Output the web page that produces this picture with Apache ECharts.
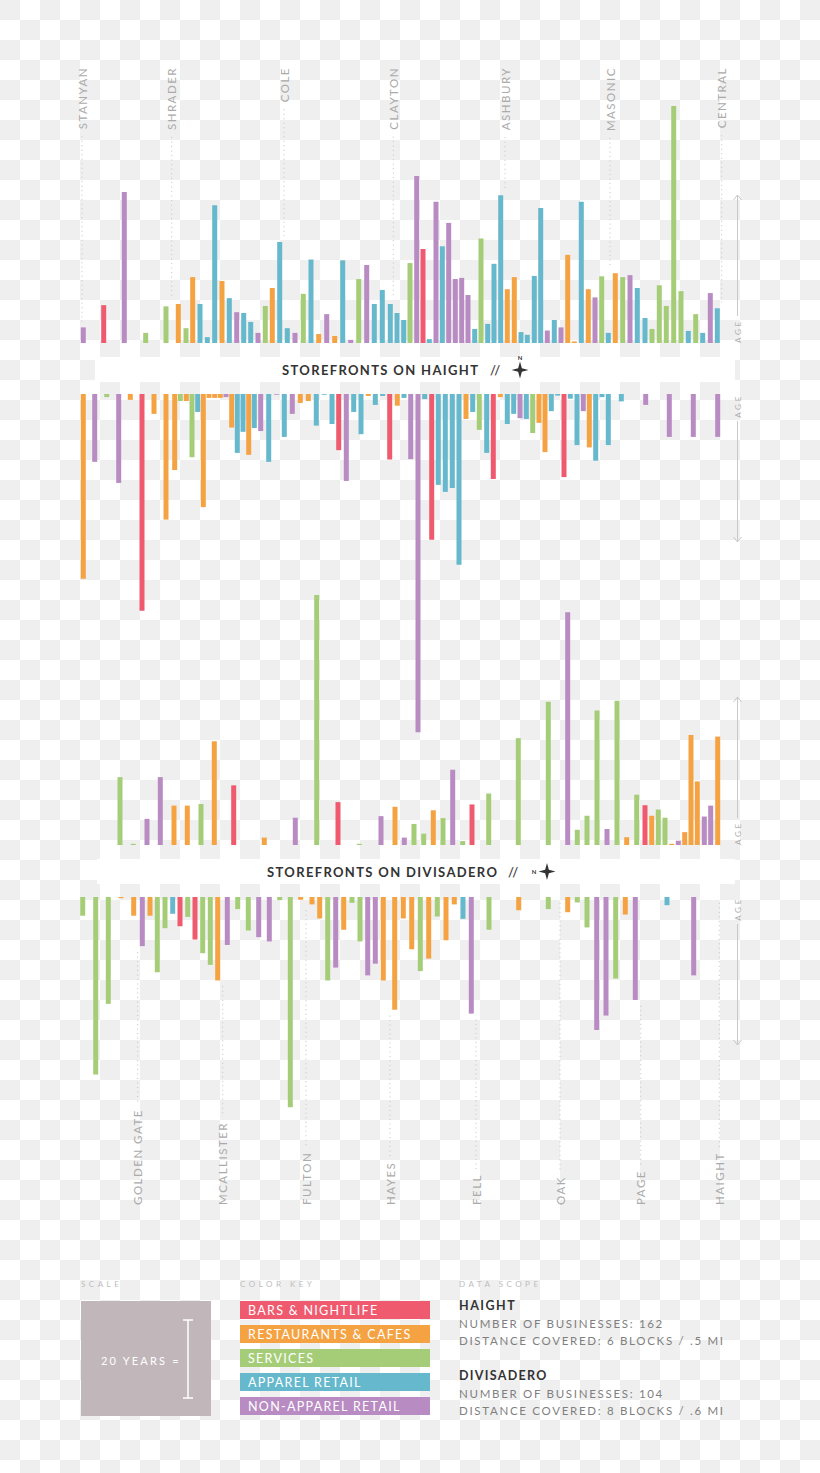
<!DOCTYPE html>
<html><head><meta charset="utf-8">
<script src="https://cdn.jsdelivr.net/npm/echarts@6/dist/echarts.min.js"></script>
<style>
html,body{margin:0;padding:0;width:820px;height:1473px;overflow:hidden;
background-color:#fff;
background-image:conic-gradient(#fff 0 25%, #efefef 0 50%, #fff 0 75%, #efefef 0);
background-size:40px 40px;}
#chart{width:820px;height:1473px;}
</style></head><body><div id="chart"></div>
<script>
// ---------------- DATA ----------------
// category codes: B bars & nightlife, R restaurants & cafes, S services, A apparel retail, N non-apparel retail
const categoryCodes = ['B','R','S','A','N'];
const categoryNames = ['BARS & NIGHTLIFE','RESTAURANTS & CAFES','SERVICES','APPAREL RETAIL','NON-APPAREL RETAIL'];

// Haight, upper side: position along street (plot units), age (years), category
const haightUpperPos = [3.3,23.7,44.3,65.7,86,98.3,106,112.7,120,127.3,
 134.7,142,149.3,156.7,163.7,170.7,178,185.3,192.3,199.7,
 207.3,215,223.3,231,238.7,246.7,254.7,262.7,270.7,278.7,
 286.7,294.3,302.3,310.3,317,323.7,330,336.7,343,349.3,
 356,362.3,368.7,375.3,381.7,388,394.7,401,407.7,414,
 420.7,427.3,434.3,441,447.3,454.3,460.7,467.3,474.3,481,
 487.7,494.3,501.3,508.3,515,521.7,528.3,535.3,542.7,550,
 557.3,565,572,579.3,586.3,593.7,601,608.3,615.7,622.7,
 630.3,637.3];
const haightUpperAge = [4.0,9.7,38.7,2.6,9.4,10.0,3.8,16.9,10.0,1.5,
 35.3,15.9,11.5,7.9,7.7,5.4,2.6,9.5,14.1,25.9,
 3.8,2.6,12.6,21.4,2.3,7.4,1.8,21.2,0.8,16.4,
 20.0,10.0,13.6,10.0,7.7,5.9,20.5,42.8,24.1,1.0,
 36.2,24.8,30.8,16.4,16.7,12.3,3.6,26.8,4.9,20.3,
 37.9,13.8,16.9,2.8,2.1,17.2,34.6,3.2,5.9,4.0,
 22.6,0.4,36.2,13.8,11.7,17.1,2.6,17.9,16.9,17.4,
 14.1,6.4,3.6,14.8,9.5,60.8,13.3,3.1,7.4,2.6,
 12.8,8.9];
const haightUpperCat = ['N','B','N','S','S','R','S','R','A','A',
 'A','R','A','N','A','A','N','S','R','A',
 'A','N','S','A','R','N','R','A','N','S',
 'N','A','A','A','A','A','S','N','B','A',
 'N','A','N','N','N','N','A','S','A','A',
 'A','R','R','A','A','A','A','N','A','N',
 'R','R','A','R','N','S','A','R','S','N',
 'A','A','S','S','S','S','S','A','S','A',
 'N','A'];

// Haight, lower side
const haightLowerPos = [3.3,14.7,26.7,38.7,50.3,62,74,86,94.7,100.3,
 106.3,112,117.7,123.3,129,134.7,140.3,146,151.7,157.3,
 163,168.7,174.3,180.7,188.7,196.7,204.3,212.3,220.3,228.3,
 236.3,244.3,252,258.7,266.3,273.7,281,288.3,295.3,302.7,
 309.7,317.3,324,330.7,338,344.7,351.7,358.3,365.3,372.3,
 379,386,392.7,399.3,406.7,413.3,420.3,427.3,433.7,440,
 446.3,452.7,459,465,471.3,477.7,484,490.3,497,503.3,
 509.3,515.7,522,528.3,541.3,565.7,589.3,613.3,637.7];
const haightLowerAge = [47.4,17.4,0.8,22.8,1.5,55.6,5.1,32.2,19.5,1.8,
 1.8,16.2,4.6,29.0,1.0,1.0,1.0,0.8,8.6,15.1,
 9.7,15.6,8.7,9.5,17.4,0.2,11.0,5.1,2.3,1.8,
 8.1,0.2,7.7,14.4,22.3,4.6,10.3,0.5,2.8,0.5,
 16.8,3.0,1.0,16.7,86.7,1.3,37.4,23.3,25.1,24.1,
 43.8,6.4,4.6,9.2,15.1,21.8,0.8,7.7,5.1,6.2,
 6.4,10.0,7.4,14.9,4.4,0.4,21.3,1.2,13.1,4.4,
 13.7,17.1,0.8,13.1,1.9,2.8,11.0,11.0,11.0];
const haightLowerCat = ['R','N','S','N','R','B','R','R','R','S',
 'R','S','A','R','R','R','R','N','R','A',
 'A','R','A','N','A','N','A','N','R','R',
 'A','A','A','B','N','A','A','R','A','A',
 'B','R','A','N','N','A','B','A','A','A',
 'A','R','A','S','A','B','R','A','A','N',
 'A','S','R','R','A','A','B','A','A','N',
 'R','A','A','A','A','N','N','N','N'];

// Divisadero, upper side
const divUpperPos = [40,53.3,67,80.3,94,107.3,121,134.3,153.7,184.3,
 215.3,236.7,258,279.3,301,315,324.3,334,343.7,353.3,
 363,372.7,382.7,392,408.7,438.3,468.3,487.7,497.3,507,
 517,527,537,546.7,556.7,565,571.7,578.3,585,591.7,
 598.3,604.7,611,617.3,624.3,630.7,637.7];
const divUpperAge = [17.4,0.3,6.7,17.4,10.1,10.1,10.5,26.6,15.3,1.9,
 7.0,64.1,11.0,0.3,7.4,9.8,1.9,5.4,2.9,8.9,
 6.9,19.3,1.0,10.4,13.2,27.4,36.7,59.7,3.9,7.5,
 34.5,4.1,37.0,2.0,12.9,10.2,7.5,9.1,7.0,0.3,
 1.1,3.3,28.2,16.3,7.3,10.1,27.8];
const divUpperCat = ['S','S','N','N','R','R','S','R','B','R',
 'N','S','B','S','N','R','N','S','S','R',
 'S','N','S','B','S','S','S','N','S','S',
 'S','N','S','R','S','B','R','S','S','R',
 'N','R','R','R','N','N','R'];

// Divisadero, lower side
const divLowerPos = [2.7,15.7,28.3,41,53.7,62.3,70,77.3,85,92.7,
 100,107.7,115,122.7,130.3,137.7,147.3,157.7,168.3,178.7,
 189.3,199.7,210.3,220.7,232,239.7,247.7,255.7,263.7,272,
 280,287.7,295.3,303.3,314.7,323.3,331.7,340.3,348.7,357.3,
 366,374.3,383,391.3,409,438.7,468.3,487.7,497.3,507,
 516.7,526,535.7,545.3,555.3,587,613.7];
const divLowerAge = [4.8,45.5,27.4,0.3,4.8,12.6,4.8,19.3,8.0,4.3,
 7.5,5.1,10.9,14.4,17.4,21.4,12.3,3.1,8.6,10.3,
 11.4,0.8,53.9,0.7,1.9,5.5,21.4,18.1,8.4,1.5,
 11.4,20.1,17.1,21.4,28.9,5.5,13.4,19.0,15.8,5.0,
 11.1,1.9,5.6,29.9,8.4,3.4,3.1,3.9,1.4,7.8,
 34.1,30.4,20.9,4.5,26.4,2.1,20.1];
const divLowerCat = ['S','S','S','R','R','N','R','S','S','A',
 'B','S','B','S','S','R','N','S','S','N',
 'N','S','S','R','R','R','S','N','R','S',
 'S','N','N','R','R','R','R','S','R','S',
 'R','R','A','N','S','R','S','R','S','S',
 'N','N','S','R','N','A','N'];

// cross streets
const haightStreets = ['STANYAN','SHRADER','COLE','CLAYTON','ASHBURY','MASONIC','CENTRAL'];
const haightStreetPos = [2,91.7,204,313.3,425,530,641.7];
const divStreets = ['GOLDEN GATE','MCALLISTER','FULTON','HAYES','FELL','OAK','PAGE','HAIGHT'];
const divStreetPos = [57.7,142.7,226,310,396,480,560.7,639.3];

const scopeLines = [
  ['HAIGHT','NUMBER OF BUSINESSES: 162','DISTANCE COVERED: 6 BLOCKS / .5 MI'],
  ['DIVISADERO','NUMBER OF BUSINESSES: 104','DISTANCE COVERED: 8 BLOCKS / .6 MI']
];
const scaleYears = 20;

// ---------------- STYLE / LAYOUT ----------------
const COLOR_OF = {B:'#ef5a6f', R:'#f5a243', S:'#a5cd78', A:'#66b8cc', N:'#b98bc3'};
const PX_PER_YEAR = 3.9;
const PLOT = {left:80, width:650, xMax:650};
const PANELS = [
  {top:67,  h:276, inverse:false},  // Haight upper (baseline 343)
  {top:394, h:351, inverse:true},   // Haight lower
  {top:585, h:260, inverse:false},  // Divisadero upper (baseline 845)
  {top:897, h:308, inverse:true}    // Divisadero lower
];
const FONT = 'Lato, "Open Sans", sans-serif';
const STREET_FONT = '11.5px ' + FONT;
const STREET_LS = 1.5;
const LS = new Map();

const mctx = document.createElement('canvas').getContext('2d');
function measure(str, font, ls){ mctx.font = font; return mctx.measureText(str).width + ls*str.length; }

function yMax(i){ return PANELS[i].h / PX_PER_YEAR; }

function barSeries(i, pos, age, cat){
  return {type:'bar', xAxisIndex:i, yAxisIndex:i, barWidth:5, silent:true,
    data: pos.map((p,k)=>[p, age[k]]),
    itemStyle:{color: (p)=>COLOR_OF[cat[p.dataIndex]]}};
}

function edgeAges(streetPos, pos, age){
  return streetPos.map(sp=>{
    let m = 0;
    pos.forEach((p,k)=>{ if (Math.abs(p-sp) < 7) m = Math.max(m, age[k]); });
    return m + 1.5;
  });
}

function streetSeries(i, names, streetPos, barPos, barAge, labelsAtTop){
  const edges = edgeAges(streetPos, barPos, barAge);
  names.forEach(n=>LS.set(n, STREET_LS));
  return {type:'custom', xAxisIndex:i, yAxisIndex:i, silent:true, clip:false,
    data: streetPos.map((p,k)=>[p, edges[k]]),
    renderItem:(params, api)=>{
      const name = names[params.dataIndex];
      const pos = api.value(0), edge = api.value(1);
      const a = api.coord([pos, yMax(i)]);
      const e = api.coord([pos, edge]);
      const w = measure(name, STREET_FONT, STREET_LS);
      let y1, y2, align;
      if (labelsAtTop){ align='right'; y1 = a[1] + w + 7; y2 = e[1]; }
      else { align='left'; y1 = e[1]; y2 = a[1] - w - 5; }
      return {type:'group', children:[
        {type:'line', shape:{x1:a[0], y1, x2:a[0], y2},
          style:{stroke:'#c2c2c2', lineWidth:1, lineDash:[1,3.5]}},
        {type:'text', x:a[0], y:a[1], rotation:Math.PI/2,
          style:{text:name, font:STREET_FONT, fill:'#ababab', align, textAlign:align,
                 verticalAlign:'middle', textVerticalAlign:'middle'}}
      ]};
    }};
}

function gtext(text, x, y, font, fill, align, vAlign, rot, ls){
  LS.set(text, ls||0);
  return {type:'text', x, y, rotation:rot||0, silent:true, z:20,
    style:{text, font, fill, align:align||'left', textAlign:align||'left',
      verticalAlign:vAlign||'middle', textVerticalAlign:vAlign||'middle'}};
}
function gline(x1,y1,x2,y2,stroke,lw){
  return {type:'line', silent:true, z:20, shape:{x1,y1,x2,y2}, style:{stroke, lineWidth:lw||1}};
}
function star(x, y, r){
  const s = r*0.22;
  return {type:'polygon', x, y, silent:true, z:20,
    shape:{points:[[0,-r],[s,-s],[r,0],[s,s],[0,r],[-s,s],[-r,0],[-s,-s]]},
    style:{fill:'#333'}};
}

// ---------------- GRAPHICS ----------------
const G = [];
// title bands
G.push({type:'rect', silent:true, z:1, shape:{x:95,y:357,width:640,height:25}, style:{fill:'#fff'}});
G.push({type:'rect', silent:true, z:1, shape:{x:97,y:859,width:638,height:25}, style:{fill:'#fff'}});
const TITLE_FONT = 'bold 13px ' + FONT;
G.push(gtext('STOREFRONTS ON HAIGHT', 282, 369.5, TITLE_FONT, '#333', 'left', 'middle', 0, 1.35));
G.push(gtext('//', 490, 369.5, '600 13px ' + FONT, '#444', 'left', 'middle', 0, 1.2));
G.push(star(520, 370, 8.5));
G.push(gtext('N', 520, 357.5, 'bold 6px ' + FONT, '#333', 'center', 'middle', 0, 0));
G.push(gtext('STOREFRONTS ON DIVISADERO', 267, 871.5, TITLE_FONT, '#333', 'left', 'middle', 0, 1.35));
G.push(gtext('//', 508, 871.5, '600 13px ' + FONT, '#444', 'left', 'middle', 0, 1.2));
G.push(gtext('N', 534, 871.5, 'bold 6px ' + FONT, '#333', 'center', 'middle', 0, 0));
G.push(star(547, 871.5, 8.5));

// AGE arrows
PANELS.forEach((p,i)=>{
  const x = 737.5;
  const base = p.inverse ? p.top : p.top + p.h;
  const d = p.inverse ? 1 : -1;
  const tip = base + d*148;
  G.push(gline(x, base + d*27, x, tip, '#c9c9c9', 1));
  G.push({type:'polyline', silent:true, z:20, shape:{points:[[x-4, tip - d*5],[x, tip],[x+4, tip - d*5]]},
    style:{stroke:'#c9c9c9', fill:null, lineWidth:1}});
  G.push(gtext('AGE', x+0.5, base, '8px ' + FONT, '#b0b0b0', p.inverse ? 'right' : 'left', 'middle', Math.PI/2, 2.7));
});

// legend: scale
const SMALL = '8px ' + FONT;
G.push(gtext('SCALE', 81, 1284, SMALL, '#bdbdbd', 'left', 'middle', 0, 3.5));
G.push({type:'rect', silent:true, z:15, shape:{x:81,y:1301,width:130,height:115}, style:{fill:'#c1b6ba'}});
G.push(gtext(scaleYears + ' YEARS =', 101, 1360, '11px ' + FONT, '#fff', 'left', 'middle', 0, 2.2));
const ibH = scaleYears * PX_PER_YEAR, ibTop = 1359 - ibH/2;
G.push(gline(188, ibTop, 188, ibTop + ibH, '#fff', 1.5));
G.push(gline(183, ibTop, 193, ibTop, '#fff', 1.5));
G.push(gline(183, ibTop + ibH, 193, ibTop + ibH, '#fff', 1.5));

// legend: color key
G.push(gtext('COLOR KEY', 240, 1284, SMALL, '#bdbdbd', 'left', 'middle', 0, 3.5));
categoryCodes.forEach((c,k)=>{
  G.push({type:'rect', silent:true, z:15, shape:{x:240, y:1301 + k*24, width:190, height:18}, style:{fill:COLOR_OF[c]}});
  G.push(gtext(categoryNames[k], 248, 1310.5 + k*24, '12.5px ' + FONT, '#fff', 'left', 'middle', 0, 1.3));
});

// legend: data scope
G.push(gtext('DATA SCOPE', 459, 1284, SMALL, '#bdbdbd', 'left', 'middle', 0, 3.5));
scopeLines.forEach((lines,k)=>{
  const y0 = 1305 + k*70;
  G.push(gtext(lines[0], 459, y0, 'bold 12.5px ' + FONT, '#333', 'left', 'middle', 0, 1.3));
  G.push(gtext(lines[1], 459, y0 + 18, '11.5px ' + FONT, '#7f7f7f', 'left', 'middle', 0, 1.7));
  G.push(gtext(lines[2], 459, y0 + 35, '11.5px ' + FONT, '#7f7f7f', 'left', 'middle', 0, 1.7));
});

// ---------------- OPTION ----------------
const option = {
  backgroundColor:'transparent',
  animation:false,
  grid: PANELS.map(p=>({left:PLOT.left, width:PLOT.width, top:p.top, height:p.h})),
  xAxis: PANELS.map((p,i)=>({type:'value', gridIndex:i, min:0, max:PLOT.xMax, show:false})),
  yAxis: PANELS.map((p,i)=>({type:'value', gridIndex:i, min:0, max:yMax(i), inverse:p.inverse, show:false})),
  series: [
    barSeries(0, haightUpperPos, haightUpperAge, haightUpperCat),
    barSeries(1, haightLowerPos, haightLowerAge, haightLowerCat),
    barSeries(2, divUpperPos, divUpperAge, divUpperCat),
    barSeries(3, divLowerPos, divLowerAge, divLowerCat),
    streetSeries(0, haightStreets, haightStreetPos, haightUpperPos, haightUpperAge, true),
    streetSeries(3, divStreets, divStreetPos, divLowerPos, divLowerAge, false)
  ],
  graphic:{elements:G}
};

const chart = echarts.init(document.getElementById('chart'), null, {renderer:'svg'});
function applySpacing(){
  document.querySelectorAll('#chart svg text').forEach(t=>{
    const v = LS.get(t.textContent);
    if (v) t.style.letterSpacing = v + 'px';
  });
}
chart.on('finished', applySpacing);
chart.setOption(option);
applySpacing();
setTimeout(applySpacing, 50);
</script></body></html>
